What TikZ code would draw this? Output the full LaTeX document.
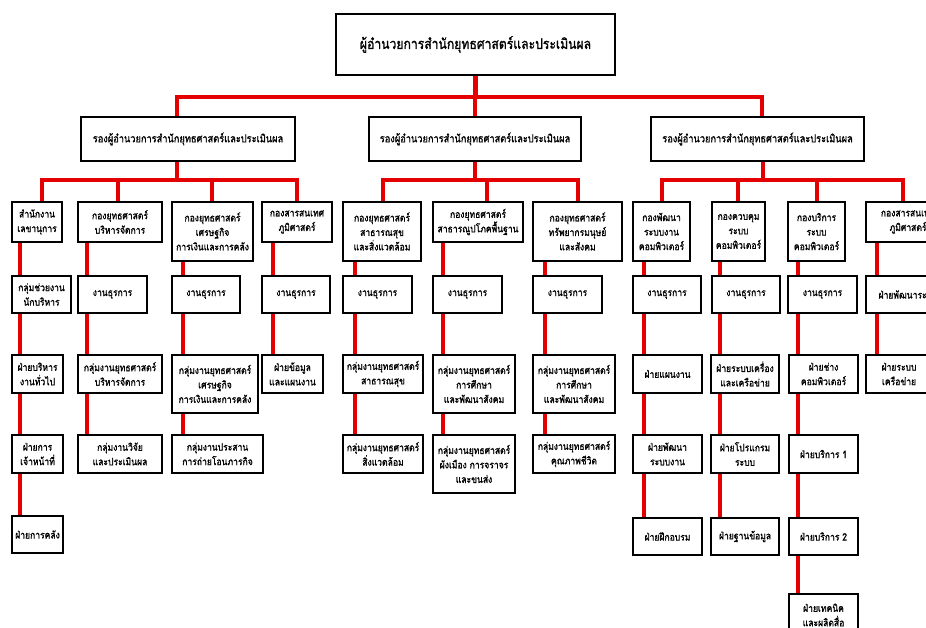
\documentclass[tikz,border=0pt]{standalone}
\usepackage{fontspec}
\newfontfamily\thai[Script=Thai,FakeStretch=0.84,FakeBold=1.2]{Loma}
\usetikzlibrary{backgrounds}
\definecolor{lred}{RGB}{228,0,0}
\tikzset{
  bx/.style={draw=black, line width=2.4pt, fill=white, align=center, inner sep=1pt,
    font=\thai\fontsize{10.2}{14.5}\selectfont},
  topbx/.style={bx, font=\thai\fontsize{14.5}{17}\selectfont},
  depbx/.style={bx, font=\thai\fontsize{11}{13}\selectfont},
  rl/.style={draw=lred, line width=4.5pt},
}
\newcommand\orgbox[7][]{\node[bx,#1, minimum width={(#5-#3)*1pt}, minimum height={(#6-#4)*1pt}] (#2) at ({(#3+#5)/2},{(#4+#6)/2}) {#7};}
\begin{document}
\begin{tikzpicture}[x=1pt,y=-1pt]
\useasboundingbox (0,0) rectangle (926,628);
% top
\orgbox[topbx]{top}{336}{14}{615}{75}{ผู้อำนวยการสำนักยุทธศาสตร์และประเมินผล}
\orgbox[depbx]{d1}{81}{117}{295}{161}{รองผู้อำนวยการสำนักยุทธศาสตร์และประเมินผล}
\orgbox[depbx]{d2}{369}{117}{581}{161}{รองผู้อำนวยการสำนักยุทธศาสตร์และประเมินผล}
\orgbox[depbx]{d3}{651}{117}{864}{161}{รองผู้อำนวยการสำนักยุทธศาสตร์และประเมินผล}
% column 1
\orgbox{a1}{12}{202}{62}{242}{สำนักงาน\\เลขานุการ}
\orgbox{b1}{12}{276}{71}{313}{กลุ่มช่วยงาน\\นักบริหาร}
\orgbox{c1}{12}{355}{63}{393}{ฝ่ายบริหาร\\งานทั่วไป}
\orgbox{e1}{12}{435}{63}{473}{ฝ่ายการ\\เจ้าหน้าที่}
\orgbox{f1}{12}{516}{63}{553}{ฝ่ายการคลัง}
% column 2
\orgbox{a2}{78}{202}{162}{242}{กองยุทธศาสตร์\\บริหารจัดการ}
\orgbox{b2}{78}{276}{147}{313}{งานธุรการ}
\orgbox{c2}{78}{355}{162}{393}{กลุ่มงานยุทธศาสตร์\\บริหารจัดการ}
\orgbox{e2}{78}{435}{162}{473}{กลุ่มงานวิจัย\\และประเมินผล}
% column 3
\orgbox{a3}{172}{202}{253}{261}{กองยุทธศาสตร์\\เศรษฐกิจ\\การเงินและการคลัง}
\orgbox{b3}{172}{276}{240}{313}{งานธุรการ}
\orgbox{c3}{172}{355}{258}{413}{กลุ่มงานยุทธศาสตร์\\เศรษฐกิจ\\การเงินและการคลัง}
\orgbox{e3}{172}{435}{263}{473}{กลุ่มงานประสาน\\การถ่ายโอนภารกิจ}
% column 4
\orgbox{a4}{262}{202}{332}{242}{กองสารสนเทศ\\ภูมิศาสตร์}
\orgbox{b4}{262}{276}{330}{313}{งานธุรการ}
\orgbox{c4}{262}{355}{323}{393}{ฝ่ายข้อมูล\\และแผนงาน}
% column 5
\orgbox{a5}{343}{202}{421}{261}{กองยุทธศาสตร์\\สาธารณสุข\\และสิ่งแวดล้อม}
\orgbox{b5}{343}{276}{412}{313}{งานธุรการ}
\orgbox{c5}{343}{355}{423}{393}{กลุ่มงานยุทธศาสตร์\\สาธารณสุข}
\orgbox{e5}{343}{435}{423}{473}{กลุ่มงานยุทธศาสตร์\\สิ่งแวดล้อม}
% column 6
\orgbox{a6}{433}{202}{523}{242}{กองยุทธศาสตร์\\สาธารณูปโภคพื้นฐาน}
\orgbox{b6}{433}{276}{502}{313}{งานธุรการ}
\orgbox{c6}{433}{355}{515}{413}{กลุ่มงานยุทธศาสตร์\\การศึกษา\\และพัฒนาสังคม}
\orgbox{e6}{433}{435}{515}{493}{กลุ่มงานยุทธศาสตร์\\ผังเมือง การจราจร\\และขนส่ง}
% column 7
\orgbox{a7}{533}{202}{622}{261}{กองยุทธศาสตร์\\ทรัพยากรมนุษย์\\และสังคม}
\orgbox{b7}{533}{276}{602}{313}{งานธุรการ}
\orgbox{c7}{533}{355}{615}{413}{กลุ่มงานยุทธศาสตร์\\การศึกษา\\และพัฒนาสังคม}
\orgbox{e7}{533}{435}{615}{473}{กลุ่มงานยุทธศาสตร์\\คุณภาพชีวิต}
% column 8
\orgbox{a8}{633}{202}{690}{261}{กองพัฒนา\\ระบบงาน\\คอมพิวเตอร์}
\orgbox{b8}{633}{276}{701}{313}{งานธุรการ}
\orgbox{c8}{633}{355}{702}{393}{ฝ่ายแผนงาน}
\orgbox{e8}{633}{435}{702}{473}{ฝ่ายพัฒนา\\ระบบงาน}
\orgbox{f8}{633}{518}{702}{555}{ฝ่ายฝึกอบรม}
% column 9
\orgbox{a9}{712}{202}{765}{261}{กองควบคุม\\ระบบ\\คอมพิวเตอร์}
\orgbox{b9}{712}{276}{780}{313}{งานธุรการ}
\orgbox{c9}{711}{355}{779}{393}{ฝ่ายระบบเครื่อง\\และเครือข่าย}
\orgbox{e9}{711}{435}{779}{473}{ฝ่ายโปรแกรม\\ระบบ}
\orgbox{f9}{711}{518}{779}{555}{ฝ่ายฐานข้อมูล}
% column 10
\orgbox{a10}{788}{202}{845}{261}{กองบริการ\\ระบบ\\คอมพิวเตอร์}
\orgbox{b10}{788}{276}{857}{313}{งานธุรการ}
\orgbox{c10}{789}{355}{858}{393}{ฝ่ายช่าง\\คอมพิวเตอร์}
\orgbox{e10}{789}{435}{858}{473}{ฝ่ายบริการ 1}
\orgbox{f10}{789}{518}{858}{555}{ฝ่ายบริการ 2}
\orgbox{g10}{789}{594}{858}{636}{ฝ่ายเทคนิค\\และผลิตสื่อ}
% column 11
\orgbox{a11}{866}{202}{950}{242}{กองสารสนเทศ\\ภูมิศาสตร์}
\orgbox{b11}{866}{276}{950}{313}{ฝ่ายพัฒนาระบบ}
\orgbox{c11}{866}{355}{932}{393}{ฝ่ายระบบ\\เครือข่าย}
% connectors
\begin{scope}[on background layer]
\fill[white] (0,0) rectangle (926,628);
\coordinate (ba) at (177,97);
\coordinate (bb) at (762,97);
\draw[rl] (top.south) -- (top.south |- ba);
\draw[rl] (d1.north -| ba) -- (ba) -- (bb) -- (d3.north -| bb);
\draw[rl] (d2.north) -- (d2.north |- ba);
% group 1
\coordinate (j1) at (42,180);
\coordinate (j2) at (118,180);
\coordinate (j3) at (212,180);
\coordinate (j4) at (297,180);
\draw[rl] (d1.south -| ba) -- (ba |- j1);
\draw[rl] (a1.north -| j1) -- (j1) -- (j4) -- (a4.north -| j4);
\draw[rl] (j2) -- (a2.north -| j2);
\draw[rl] (j3) -- (a3.north -| j3);
% group 2
\coordinate (j5) at (383,180);
\coordinate (j6) at (487,180);
\coordinate (j7) at (578,180);
\draw[rl] (d2.south) -- (d2.south |- j5);
\draw[rl] (a5.north -| j5) -- (j5) -- (j7) -- (a7.north -| j7);
\draw[rl] (j6) -- (a6.north -| j6);
% group 3
\coordinate (j8) at (662,180);
\coordinate (j9) at (738,180);
\coordinate (j10) at (817,180);
\coordinate (j11) at (903,180);
\coordinate (jd3) at (763,180);
\draw[rl] (d3.south -| jd3) -- (jd3);
\draw[rl] (a8.north -| j8) -- (j8) -- (j11) -- (a11.north -| j11);
\draw[rl] (j9) -- (a9.north -| j9);
\draw[rl] (j10) -- (a10.north -| j10);
% spines
\coordinate (s1) at (20,0);
\coordinate (s2) at (87,0);
\coordinate (s3) at (183,0);
\coordinate (s4) at (273,0);
\coordinate (s5) at (355,0);
\coordinate (s6) at (443,0);
\coordinate (s7) at (545,0);
\coordinate (s8) at (644,0);
\coordinate (s9) at (720,0);
\coordinate (s10) at (798,0);
\coordinate (s11) at (877,0);
\draw[rl] (a1.south -| s1) -- (f1.north -| s1);
\draw[rl] (a2.south -| s2) -- (e2.north -| s2);
\draw[rl] (a3.south -| s3) -- (e3.north -| s3);
\draw[rl] (a4.south -| s4) -- (c4.north -| s4);
\draw[rl] (a5.south -| s5) -- (e5.north -| s5);
\draw[rl] (a6.south -| s6) -- (e6.north -| s6);
\draw[rl] (a7.south -| s7) -- (e7.north -| s7);
\draw[rl] (a8.south -| s8) -- (f8.north -| s8);
\draw[rl] (a9.south -| s9) -- (f9.north -| s9);
\draw[rl] (a10.south -| s10) -- (g10.north -| s10);
\draw[rl] (a11.south -| s11) -- (c11.north -| s11);
\end{scope}
\end{tikzpicture}
\end{document}
